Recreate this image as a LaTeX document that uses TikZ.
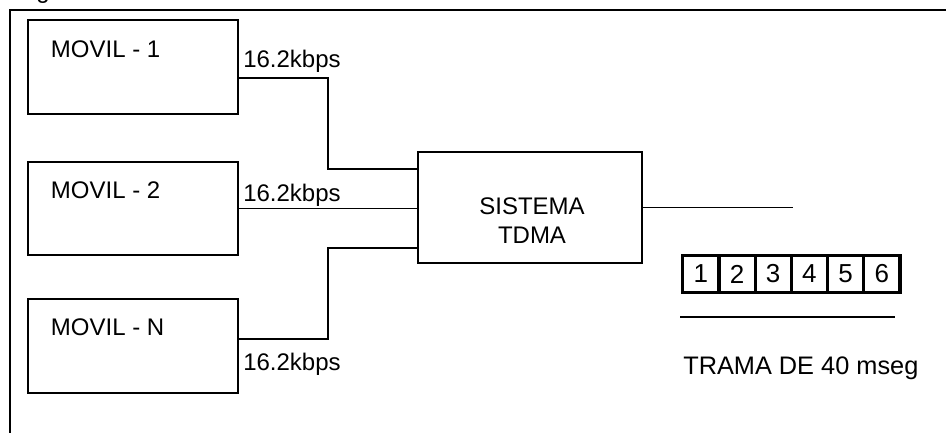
\documentclass[tikz,border=0pt]{standalone}
\usepackage{fontspec}
\setmainfont{Liberation Sans}
\begin{document}
\begin{tikzpicture}[x=0.75pt,y=-0.75pt,
  every node/.style={font=\fontsize{18}{21.6}\selectfont},
  wire/.style={draw=black,line width=1.3pt},
  movbox/.style={draw=black,line width=1.3pt,minimum width=157.5pt,minimum height=70pt,inner sep=0pt},
  sysbox/.style={draw=black,line width=1.3pt,minimum width=168pt,minimum height=83.25pt,inner sep=0pt},
  cell/.style={draw=black,line width=2.4pt,minimum width=27.15pt,minimum height=27.45pt,inner sep=0pt,font=\fontsize{19.5}{22}\selectfont},
  txt/.style={anchor=base west,inner sep=0pt},
  ctxt/.style={anchor=base,inner sep=0pt}]
\clip (0,0) rectangle (946,432);
\fill[white] (0,0) rectangle (946,432);
% outer frame (partly outside the view)
\draw[line width=1.5pt] (980,10) -- (10,10) -- (10,480);
\node[txt] (gtop) at (36,-1.5) {g};
% mobile boxes
\node[movbox] (m1) at (133,67) {};
\node[movbox] (m2) at (133,208.5) {};
\node[movbox] (mN) at (133,346) {};
\node[txt] (m1t) at (50.7,57.7) {MOVIL - 1};
\node[txt] (m2t) at (50.7,198.5) {MOVIL - 2};
\node[txt] (mNt) at (50.7,335) {MOVIL - N};
% system box
\node[sysbox] (sys) at (530,207.5) {};
\node[ctxt] (sys1) at (532,214) {SISTEMA};
\node[ctxt] (sys2) at (532,243.3) {TDMA};
% connectors
\coordinate (j1) at (328,169);
\coordinate (jN) at (328,248);
\draw[wire] (m1.east) ++(0,11) -| (j1) -- (j1 -| sys.west);
\draw[wire] (m2.east) -- (m2.east -| sys.west);
\draw[wire] (mN.east) ++(0,-7) -| (jN) -- (jN -| sys.west);
\coordinate (out) at (793,207.5);
\draw[wire] (sys.east) -- (out);
% rate labels
\node[txt] (r1) at (243,67) {16.2kbps};
\node[txt] (r2) at (243,201.5) {16.2kbps};
\node[txt] (rN) at (243,370) {16.2kbps};
% frame cells
\foreach \i in {1,...,6}{
  \node[cell] (c\i) at ({682.7+18.1+(\i-1)*36.2},274) {\i};
}
\coordinate (ta) at (680,317);
\coordinate (tb) at (895,317);
\draw[wire] (ta) -- (tb);
\node[txt,font=\fontsize{19}{22}\selectfont] (trama) at (683,374) {TRAMA DE 40 mseg};
\end{tikzpicture}
\end{document}
